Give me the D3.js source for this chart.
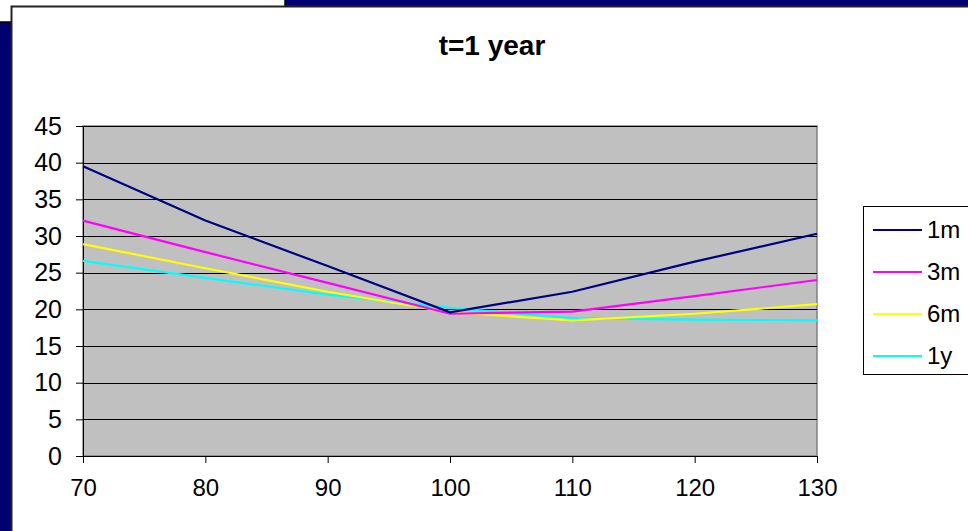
<!DOCTYPE html>
<html><head><meta charset="utf-8">
<script src="https://cdn.jsdelivr.net/npm/d3@7"></script>
<style>body{margin:0;padding:0;overflow:hidden;background:#000070}svg{display:block}</style>
</head><body>
<script>
const strikes = [70, 80, 90, 100, 110, 120, 130];
const seriesNames = ["1m", "3m", "6m", "1y"];
const vol1m = [39.5, 32.1, 25.9, 19.6, 22.4, 26.5, 30.3];
const vol3m = [32.1, 27.8, 23.6, 19.4, 19.7, 21.8, 24.0];
const vol6m = [28.9, 25.6, 22.4, 19.6, 18.5, 19.4, 20.7];
const vol1y = [26.6, 24.3, 22.0, 20.2, 18.8, 18.6, 18.5];
const yTicks = [0, 5, 10, 15, 20, 25, 30, 35, 40, 45];
const colors = ["#000080", "#ff00ff", "#ffff00", "#00ffff"];
const title = "t=1 year";

const W = 968, H = 531;
const svg = d3.select("body").append("svg").attr("width", W).attr("height", H);
svg.append("rect").attr("width", W).attr("height", H).attr("fill", "#000070");
svg.append("rect").attr("x", -2).attr("y", -2).attr("width", 287).attr("height", 24)
  .attr("fill", "#fff").attr("stroke", "#000").attr("stroke-width", 1.5);
svg.append("rect").attr("x", 11.5).attr("y", 6.5).attr("width", 970).attr("height", 540)
  .attr("fill", "#fff").attr("stroke", "#222").attr("stroke-width", 2);

const font = "Liberation Sans, Arial, sans-serif";
const x = d3.scaleLinear().domain([70, 130]).range([83, 817]);
const y = d3.scaleLinear().domain([0, 45]).range([456, 126]);

// plot area
svg.append("rect").attr("x", x(70)).attr("y", y(45)).attr("width", x(130) - x(70)).attr("height", y(0) - y(45))
  .attr("fill", "#c0c0c0").attr("stroke", "#808080").attr("stroke-width", 1.5);

// gridlines
svg.append("g").selectAll("line").data(yTicks.filter(d => d > 0)).join("line")
  .attr("x1", x(70)).attr("x2", x(130)).attr("y1", d => Math.round(y(d)) + 0.5).attr("y2", d => Math.round(y(d)) + 0.5)
  .attr("stroke", "#000").attr("stroke-width", 1);

// y axis
const yAxis = svg.append("g").attr("transform", `translate(${x(70)},0)`)
  .call(d3.axisLeft(y).tickValues(yTicks).tickSize(7).tickPadding(14));
yAxis.select(".domain").attr("stroke", "#000");
yAxis.selectAll("text").attr("font-family", font).attr("font-size", 25).attr("fill", "#000");

// x axis
const xAxis = svg.append("g").attr("transform", `translate(0,${y(0)})`)
  .call(d3.axisBottom(x).tickValues(strikes).tickSize(7).tickPadding(16));
xAxis.select(".domain").attr("stroke", "#000");
xAxis.selectAll("text").attr("font-family", font).attr("font-size", 24).attr("fill", "#000");

// lines
const all = [vol1m, vol3m, vol6m, vol1y];
const line = d3.line().x((d, i) => x(strikes[i])).y(d => y(d));
const order = [3, 2, 1, 0];
order.forEach(k => {
  svg.append("path").datum(all[k]).attr("d", line).attr("fill", "none")
    .attr("stroke", colors[k]).attr("stroke-width", 2.2);
});

// title
svg.append("text").attr("x", 492).attr("y", 55).attr("text-anchor", "middle")
  .attr("font-family", font).attr("font-weight", "bold").attr("font-size", 28).text(title);

// legend
const lg = svg.append("g");
lg.append("rect").attr("x", 863.5).attr("y", 206.5).attr("width", 120).attr("height", 168)
  .attr("fill", "#fff").attr("stroke", "#000").attr("stroke-width", 1);
seriesNames.forEach((n, i) => {
  const yy = 230 + i * 42;
  lg.append("line").attr("x1", 873).attr("x2", 922).attr("y1", yy).attr("y2", yy)
    .attr("stroke", colors[i]).attr("stroke-width", 2);
  lg.append("text").attr("x", 927).attr("y", yy + 8).attr("font-family", font).attr("font-size", 24).text(n);
});
</script>
</body></html>
